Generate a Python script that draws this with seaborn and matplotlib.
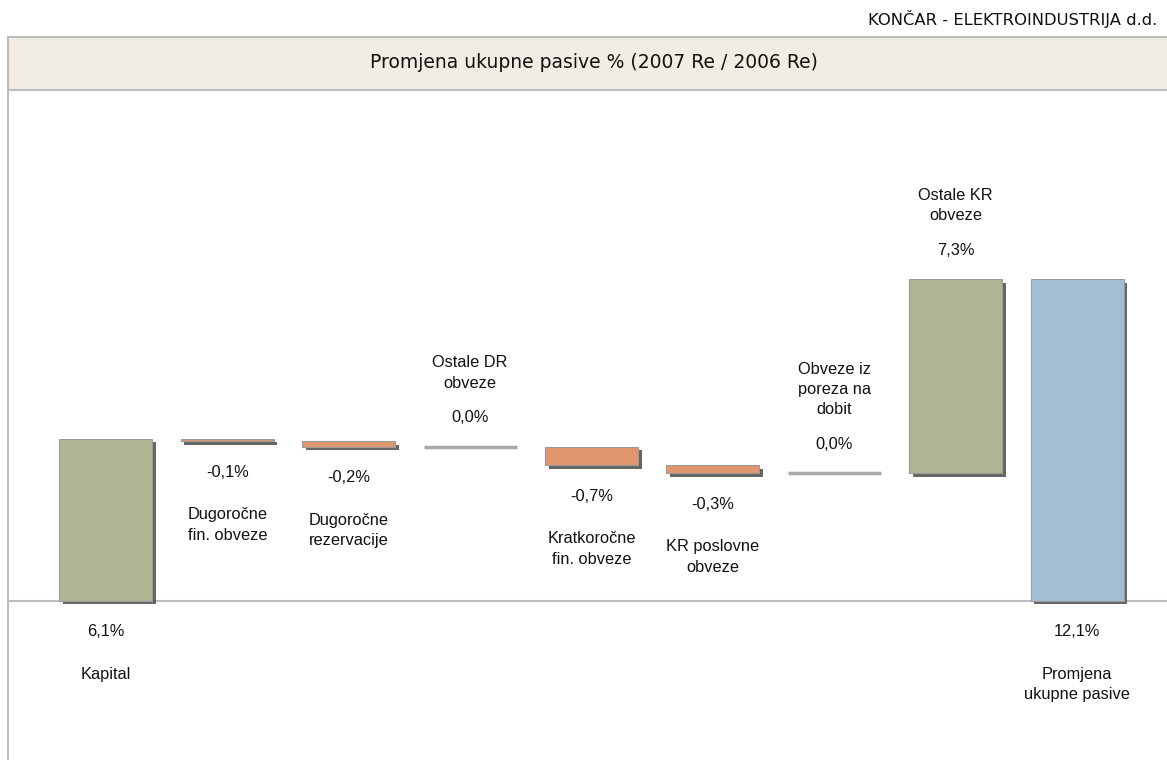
import matplotlib
matplotlib.use("Agg")
import matplotlib.pyplot as plt
import matplotlib.patheffects as pe
from matplotlib.patches import Rectangle
from matplotlib.lines import Line2D
import seaborn as sns
import pandas as pd

# ---- data ----
categories = ["Kapital", "Dugoročne\nfin. obveze", "Dugoročne\nrezervacije", "Ostale DR\nobveze",
              "Kratkoročne\nfin. obveze", "KR poslovne\nobveze", "Obveze iz\nporeza na\ndobit",
              "Ostale KR\nobveze", "Promjena\nukupne pasive"]
values = [6.1, -0.1, -0.2, 0.0, -0.7, -0.3, 0.0, 7.3, 12.1]
value_labels = ["6,1%", "-0,1%", "-0,2%", "0,0%", "-0,7%", "-0,3%", "0,0%", "7,3%", "12,1%"]
kinds = ["start", "step", "step", "step", "step", "step", "step", "step", "total"]

title = "Promjena ukupne pasive % (2007 Re / 2006 Re)"
company = "KONČAR - ELEKTROINDUSTRIJA d.d."

# waterfall bottoms
bottoms = []
running = 0.0
for v, k in zip(values, kinds):
    if k in ("start", "total"):
        bottoms.append(0.0)
        running = v if k == "start" else running
    else:
        bottoms.append(running)
        running += v

GREEN = "#B1B594"
ORANGE = "#E1966E"
BLUE = "#A4BED6"
GRAY = "#A8A8A8"
colors = []
for v, k in zip(values, kinds):
    if k == "total":
        colors.append(BLUE)
    elif v > 0:
        colors.append(GREEN)
    elif v < 0:
        colors.append(ORANGE)
    else:
        colors.append(GRAY)

sns.set_theme(style="white")
plt.rcParams['font.family'] = ['Liberation Sans', 'DejaVu Sans']

W, H = 1167, 760
fig = plt.figure(figsize=(W / 100, H / 100), dpi=100)
fig.patch.set_facecolor("white")

# banner
bx0 = 8 / W
banner_top = 1 - 37 / H
banner_bot = 1 - 90 / H
fig.patches.append(Rectangle((bx0, banner_bot), 1 - bx0 + 0.01, banner_top - banner_bot,
                             transform=fig.transFigure, facecolor="#F2EDE3",
                             edgecolor="#BDBDBD", linewidth=1.5, zorder=0))
fig.lines.append(Line2D([bx0, bx0], [0, banner_top], transform=fig.transFigure,
                        color="#BDBDBD", linewidth=1.5))
fig.text(594 / W, 1 - 63 / H, title, ha="center", va="center", fontsize=13.5,
         family="DejaVu Sans", color="#111111")
fig.text(1157 / W, 1 - 19 / H, company, ha="right", va="center", fontsize=11.8,
         family="DejaVu Sans", color="#111111")

ax = fig.add_axes([bx0, 0, 1 - bx0, banner_bot])
ax.set_facecolor("none")
df = pd.DataFrame({"cat": categories, "val": values})
sns.barplot(data=df, x="cat", y="val", hue="cat", palette=colors, legend=False,
            width=0.766, ax=ax, saturation=1, edgecolor="#9A9A9A", linewidth=0.8)

shadow = [pe.SimplePatchShadow(offset=(2.5, -2.5), shadow_rgbFace="#555555", alpha=0.9), pe.Normal()]
for p, b, v in zip(ax.patches, bottoms, values):
    p.set_y(b)
    p.set_height(v)
    p.set_zorder(3)
    if v == 0:
        p.set_edgecolor(GRAY)
        p.set_linewidth(2.5)
    else:
        p.set_path_effects(shadow)

px_per = 26.6
ax.set_ylim(-159 / px_per, 511 / px_per)
ax.set_xlim(-0.807, 8.74)
ax.axhline(0, color="#BDBDBD", linewidth=1.5, zorder=1)
ax.set_xticks([])
ax.set_yticks([])
ax.set_xlabel("")
ax.set_ylabel("")
for s in ax.spines.values():
    s.set_visible(False)

fs = 11.8
ls = 1.45
for i, (v, b, k, lab, name) in enumerate(zip(values, bottoms, kinds, value_labels, categories)):
    if k in ("start", "total"):
        edge, direction = 0.0, -1
    elif v < 0:
        edge, direction = b + v, -1
    else:
        edge, direction = b + v, 1
    if direction < 0:
        ax.annotate(lab, xy=(i, edge), xytext=(0, -31), textcoords="offset pixels",
                    ha="center", va="center", fontsize=fs, color="#111111")
        ax.annotate(name, xy=(i, edge), xytext=(0, -66), textcoords="offset pixels",
                    ha="center", va="top", fontsize=fs, color="#111111", linespacing=ls)
    else:
        ax.annotate(lab, xy=(i, edge), xytext=(0, 29), textcoords="offset pixels",
                    ha="center", va="center", fontsize=fs, color="#111111")
        ax.annotate(name, xy=(i, edge), xytext=(0, 56), textcoords="offset pixels",
                    ha="center", va="bottom", fontsize=fs, color="#111111", linespacing=ls)

fig.savefig("out.png", dpi=100)
